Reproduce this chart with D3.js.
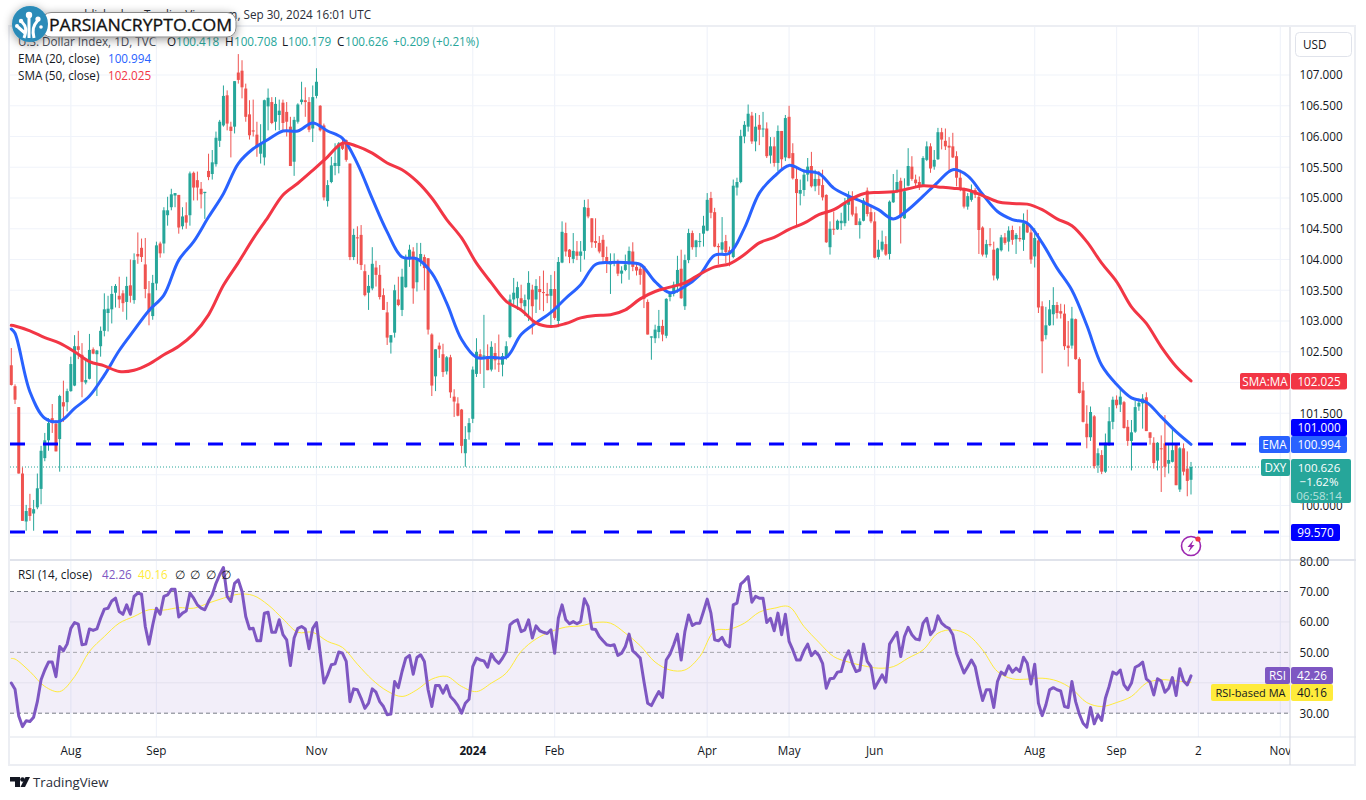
<!DOCTYPE html>
<html>
<head>
<meta charset="utf-8">
<title>DXY 1D</title>
<script src="https://cdnjs.cloudflare.com/ajax/libs/d3/7.8.5/d3.min.js"></script>
<style>
  html, body { margin: 0; padding: 0; background: #fff; }
  svg { display: block; }
  text { font-family: "Open Sans", Roboto, sans-serif; }
</style>
</head>
<body>
<div id="chart"></div>
<script>
// Daily candles, oldest first: open, high, low, close
const ohlcRows = [
  [102.28,102.56,101.95,101.96],[101.94,101.97,101.65,101.72],[101.6,101.6,100.52,100.52],[100.52,100.62,99.75,99.75],[99.74,100.01,99.59,99.91],[99.96,100.19,99.75,99.83],[99.87,100.09,99.59,99.94],[99.97,100.52,99.94,100.28],[100.27,100.97,100.02,100.89],[100.77,101.18,100.72,101.06],
  [101.06,101.42,100.89,101.34],[101.42,101.65,101.18,101.34],[101.33,101.39,100.88,100.88],[101.08,101.8,100.55,101.78],[101.68,102.03,101.36,101.61],[101.68,101.9,101.53,101.86],[101.86,102.42,101.85,102.3],[101.95,102.77,101.94,102.59],[102.59,102.84,102.38,102.53],[102.45,102.64,101.76,102.01],
  [102.0,102.37,101.97,102.04],[102.06,102.79,102.05,102.53],[102.54,102.57,102.46,102.47],[102.46,102.53,101.78,102.52],[102.59,102.91,102.42,102.84],[102.84,103.45,102.75,103.19],[103.13,103.41,102.83,103.2],[103.19,103.57,102.96,103.44],[103.46,103.6,103.22,103.57],[103.41,103.72,103.21,103.35],
  [103.45,103.5,103.15,103.29],[103.31,103.72,103.02,103.57],[103.58,104.0,103.3,103.41],[103.34,104.1,103.28,103.99],[104.09,104.44,103.93,104.05],[104.19,104.34,103.96,104.04],[103.92,104.35,103.37,103.52],[103.45,103.65,102.93,103.15],[103.08,103.75,103.02,103.62],[103.61,104.29,103.5,104.23],
  [104.26,104.29,104.03,104.1],[104.26,104.85,104.1,104.8],[104.72,105.02,104.55,104.8],[104.85,105.15,104.8,105.06],[105.04,105.08,104.85,105.08],[105.05,105.05,104.42,104.52],[104.54,104.85,104.49,104.7],[104.72,104.93,104.5,104.6],[104.72,105.43,104.55,105.4],[105.41,105.43,104.96,105.17],
  [105.29,105.43,104.96,105.17],[105.15,105.26,104.83,105.06],[105.08,105.1,104.66,105.1],[105.44,105.72,105.29,105.34],[105.39,105.78,105.3,105.58],[105.55,106.08,105.51,105.98],[105.93,106.27,105.83,106.24],[106.18,106.83,106.16,106.66],[106.67,106.75,106.1,106.21],[106.16,106.24,105.66,106.09],
  [106.16,106.9,106.05,106.9],[107.04,107.34,106.86,106.92],[107.07,107.24,106.62,106.8],[106.78,106.86,106.24,106.32],[106.36,106.59,105.95,106.02],[106.1,106.6,106.0,106.08],[106.03,106.24,105.67,105.82],[105.72,106.2,105.56,105.89],[105.66,106.6,105.53,106.59],[106.49,106.78,106.1,106.63],
  [106.56,106.64,106.2,106.22],[106.24,106.64,106.1,106.53],[106.35,106.6,106.1,106.42],[106.55,106.6,106.1,106.22],[106.4,106.56,106.0,106.24],[106.16,106.32,105.52,105.52],[105.59,106.32,105.36,106.27],[106.24,106.54,106.21,106.52],[106.56,106.89,106.52,106.6],[106.59,106.8,106.32,106.56],
  [106.56,106.64,106.07,106.11],[106.13,106.83,105.91,106.64],[106.66,107.11,106.62,106.89],[106.5,106.51,106.08,106.1],[106.18,106.21,104.96,105.01],[104.95,105.29,104.86,105.21],[105.26,105.67,105.24,105.53],[105.52,105.89,105.37,105.57],[105.52,105.91,105.4,105.89],[105.89,105.95,105.78,105.8],
  [105.94,105.95,105.59,105.62],[105.56,105.56,103.99,104.04],[104.04,104.5,103.99,104.4],[104.36,104.54,103.93,104.35],[104.4,104.56,103.83,103.91],[103.81,103.92,103.4,103.42],[103.46,103.75,103.18,103.57],[103.53,104.2,103.5,103.93],[103.87,103.98,103.56,103.75],[103.75,103.91,103.35,103.39],
  [103.42,103.53,103.18,103.18],[103.14,103.31,102.61,102.73],[102.65,102.77,102.47,102.77],[102.81,103.59,102.73,103.5],[103.35,103.72,103.24,103.26],
  [103.18,103.85,103.08,103.72],[103.55,104.08,103.54,104.04],[104.01,104.24,103.88,104.16],[104.13,104.2,103.28,103.53],[103.63,104.27,103.48,104.02],
  [103.97,104.27,103.89,104.09],[104.04,104.08,103.5,103.86],[104.02,104.02,102.78,102.86],[102.78,102.8,101.78,101.95],[102.1,102.54,101.86,102.54],[102.6,102.65,102.4,102.54],[102.46,102.63,102.09,102.17],[102.18,102.43,102.13,102.41],[102.41,102.45,101.75,101.84],[101.77,101.89,101.44,101.69],
  [101.66,101.76,101.45,101.46],[101.56,101.57,100.85,100.97],[100.85,101.29,100.63,101.08],[101.19,101.42,101.07,101.34],[101.41,102.26,101.34,102.21],[102.14,102.72,102.09,102.5],[102.46,102.54,102.14,102.4],[102.42,103.1,101.91,102.44],[102.43,102.62,102.2,102.2],[102.21,102.67,102.18,102.58],
  [102.48,102.64,102.21,102.36],[102.31,102.78,102.17,102.3],[102.29,102.48,102.1,102.43],[102.43,102.67,102.37,102.59],[102.74,103.43,102.72,103.35],[103.35,103.7,103.27,103.46],[103.37,103.64,103.18,103.55],[103.37,103.59,103.16,103.29],[103.24,103.43,103.08,103.34],[103.35,103.81,103.0,103.62],
  [103.51,103.59,102.78,103.24],[103.35,103.68,103.13,103.57],[103.52,103.73,103.18,103.47],[103.47,103.82,103.16,103.46],[103.44,103.62,103.29,103.41],[103.41,103.75,102.91,103.52],[103.52,103.81,103.02,103.05],[103.0,104.04,102.9,103.96],[103.95,104.62,103.94,104.45],[104.43,104.6,104.05,104.13],
  [104.16,104.17,103.94,104.04],[104.01,104.43,103.94,104.14],[104.13,104.3,103.99,104.06],[104.06,104.3,103.8,104.13],[104.14,104.97,104.0,104.85],[104.84,104.98,104.67,104.7],[104.67,104.67,104.19,104.28],[104.3,104.67,104.19,104.27],[104.27,104.38,104.1,104.13],[104.32,104.4,103.94,104.04],
  [104.04,104.21,103.78,103.95],[103.92,104.1,103.44,103.97],[103.96,104.1,103.89,103.97],[103.97,104.0,103.73,103.77],[103.77,103.89,103.61,103.82],[103.83,104.08,103.81,103.92],[103.92,104.21,103.67,104.14],[104.13,104.28,103.81,103.88],[103.88,103.94,103.74,103.82],[103.85,103.92,103.59,103.75],
  [103.89,103.9,103.21,103.36],[103.31,103.35,102.78,102.78],[102.73,102.75,102.37,102.75],[102.72,102.94,102.64,102.86],[102.82,103.18,102.72,102.92],[102.92,103.02,102.67,102.78],[102.76,103.37,102.72,103.36],[103.39,103.48,103.32,103.47],[103.44,103.64,103.4,103.59],[103.59,104.06,103.46,103.83],
  [103.85,104.16,103.36,103.37],[103.24,104.08,103.18,103.99],[103.99,104.5,103.94,104.43],[104.43,104.47,104.16,104.2],[104.2,104.32,104.04,104.31],[104.29,104.43,104.2,104.3],[104.42,104.71,104.21,104.55],[104.47,105.08,104.46,104.97],[105.0,105.1,104.67,104.76],[104.77,104.84,104.2,104.21],
  [104.22,104.26,103.92,104.2],[104.16,104.69,104.08,104.28],[104.3,104.4,103.94,104.12],[104.15,104.21,103.89,104.12],[104.04,105.3,104.02,105.2],[105.17,105.33,105.04,105.26],
  [105.26,106.11,105.24,106.01],[106.0,106.25,105.89,106.19],[106.16,106.52,106.08,106.37],[106.34,106.4,105.88,105.92],[105.92,106.38,105.76,106.16],[106.19,106.35,105.86,106.11],[106.12,106.4,105.99,106.13],[106.13,106.23,105.65,105.68],[105.69,105.99,105.56,105.84],[105.84,105.99,105.51,105.57],
  [105.57,106.18,105.44,106.09],[106.09,106.09,105.48,105.63],[105.66,106.35,105.6,106.3],[106.32,106.5,105.64,105.65],[105.73,105.89,105.3,105.32],[105.31,105.48,104.55,105.08],[105.07,105.3,104.88,105.13],[105.13,105.46,105.03,105.38],[105.38,105.65,105.27,105.51],[105.52,105.75,105.17,105.19],
  [105.19,105.46,105.11,105.31],[105.31,105.44,105.05,105.2],[105.21,105.46,104.96,105.01],[105.05,105.06,104.27,104.28],[104.2,104.62,104.08,104.5],[104.5,104.78,104.4,104.49],[104.49,104.65,104.48,104.63],[104.59,104.76,104.48,104.63],[104.59,105.0,104.54,104.92],[104.89,105.11,104.63,105.05],
  [105.03,105.11,104.7,104.73],[104.75,104.86,104.56,104.56],[104.56,104.67,104.34,104.62],[104.63,105.0,104.62,104.96],[105.12,105.17,104.7,104.74],[104.77,104.89,104.59,104.62],[104.62,104.77,104.02,104.03],[104.04,104.32,104.0,104.16],[104.16,104.47,104.13,104.29],[104.25,104.38,104.06,104.08],
  [104.09,104.96,104.0,104.94],[104.93,105.39,104.92,105.1],[105.11,105.46,105.08,105.26],[105.28,105.33,104.26,104.68],[104.67,105.32,104.66,105.11],[105.2,105.81,105.19,105.52],[105.51,105.68,105.28,105.31],[105.3,105.38,105.19,105.24],[105.26,105.35,105.13,105.2],[105.2,105.68,105.19,105.65],
  [105.62,105.92,105.6,105.84],[105.84,105.89,105.41,105.48],[105.51,105.78,105.46,105.62],[105.63,106.14,105.62,106.07],[106.07,106.14,105.79,105.95],[105.93,106.13,105.78,105.84],[105.85,105.99,105.41,105.82],[105.84,106.06,105.65,105.66],[105.68,105.76,105.19,105.33],[105.33,105.46,105.11,105.15],
  [105.15,105.17,104.83,104.86],[104.86,105.08,104.81,105.03],[104.97,105.22,104.94,105.13],[105.13,105.16,105.0,105.05],[105.02,105.05,104.09,104.48],[104.52,104.54,104.05,104.08],[104.08,104.32,104.03,104.25],[104.25,104.51,104.21,104.24],[104.16,104.29,103.66,103.74],[103.69,104.19,103.66,104.18],
  [104.15,104.4,104.13,104.36],[104.36,104.43,104.24,104.27],[104.29,104.54,104.13,104.47],[104.48,104.55,104.24,104.32],[104.33,104.43,104.09,104.4],[104.35,104.54,104.29,104.33],[104.32,104.75,104.14,104.59],[104.58,104.81,104.43,104.44],[104.44,104.51,103.93,104.0],[104.05,104.51,103.87,104.35],
  [104.31,104.43,103.13,103.22],[103.24,103.32,102.15,102.67],
  [102.77,103.23,102.7,102.93],[102.93,103.34,102.92,103.19],[103.11,103.55,102.93,103.26],[103.26,103.31,103.04,103.13],[103.16,103.28,103.04,103.12],[103.12,103.27,102.53,102.59],[102.6,103.0,102.26,102.56],[102.6,103.23,102.55,103.04],[103.03,103.04,102.37,102.38],[102.38,102.41,101.82,101.83],
  [101.87,102.01,101.35,101.36],[101.33,101.63,100.93,101.11],[101.11,101.61,101.05,101.52],[101.45,101.47,100.6,100.64],[100.65,100.93,100.53,100.85],[100.82,100.9,100.51,100.55],[100.55,101.17,100.53,101.02],[100.98,101.6,100.97,101.37],[101.36,101.77,101.24,101.72],[101.72,101.79,101.58,101.63],
  [101.64,101.92,101.52,101.77],[101.68,101.7,101.25,101.26],[101.28,101.39,100.97,101.05],[101.05,101.39,100.57,101.19],[101.2,101.7,101.18,101.6],[101.61,101.74,101.54,101.67],[101.66,101.81,101.25,101.74],[101.76,101.84,101.21,101.21],[101.19,101.19,100.99,101.1],[101.02,101.11,100.6,100.69],
  [100.73,101.03,100.57,101.02],[100.93,101.14,100.22,100.92],[101.01,101.47,100.46,100.63],[100.68,101.0,100.52,100.74],[100.71,101.25,100.7,100.9],[101.01,101.01,100.33,100.33],[100.26,100.95,100.22,100.93],[100.93,101.01,100.49,100.55],[100.6,100.88,100.15,100.4],[100.418,100.708,100.179,100.626]
];

// RSI 14, one value per candle, oldest first
const rsiValues = [
  39.9,37.9,29.1,25.6,27.5,27.3,28.7,33.8,41,44.2,46.8,46.8,42,51.9,50.5,52.7,57.9,59.8,59.3,52.5,
  52.7,57.7,57.2,57.7,61.2,64.2,64.5,66.9,67.8,63.4,62.5,65.6,62.5,68.4,69.5,69.1,58.5,52.7,59,64.5,
  62.5,68.4,68.9,70.7,70.7,61.6,62.9,63.6,69.5,67.8,65.6,64.5,64,66.7,68.9,72.7,75.5,77.9,68.4,66.7,
  72.7,73.8,70,61.8,57.7,57.9,53.8,53.8,62.9,63.2,56.6,56.6,60.7,55.8,54.1,45.7,54.7,57.9,58.5,57.7,
  51.2,57.9,59.8,49.7,39.9,42.6,45.9,46.2,50.1,49.7,47,33.8,38,37.7,34.9,31.6,33.3,38,36.9,33.8,
  32.2,29.5,29.7,40.4,38.4,43.7,48.1,49,42.8,48.3,49.2,47,37.7,32.2,39.1,39.1,36.6,39.1,35.5,34.2,
  32.5,30,33.3,34.6,45.3,48.1,47.5,47.2,45.1,49.5,47.5,46.4,48.1,50.3,59,60.1,60.7,56.8,57.4,60.7,
  54.7,58.7,57.1,56.6,56.2,57.4,49.7,61.2,65.6,60.7,59.4,60.1,59.4,60.1,67.6,65.1,57.7,57.5,55.2,53.8,
  52.5,52.2,52.5,49,49.7,51.9,56,50.5,49.4,48.1,40.4,33.3,32.5,34.9,37.1,35.2,47.5,49.4,52.5,56,
  47.5,56.8,62.3,58.8,59.6,59.6,63.4,67.5,62.9,54.1,53.8,54.9,52.5,51.8,65.6,66.2,72.4,73.5,74.9,66.5,
  68.4,67.8,67.8,59.8,61.2,57.1,62.9,55.8,62.5,53.6,50.8,47.5,47.5,50.5,52.7,48.9,50.3,49,46.4,38.2,
  41.3,41.5,43.5,43.7,48.1,50.5,46.4,43.7,44.2,52.7,47,45.3,38.2,40.4,42.6,40.2,52.7,54.7,56.6,48.6,
  55.2,58.2,55.8,54.4,54.1,59.6,61.2,55.8,57.4,62,59.6,58.5,57.9,55.8,49.7,46.4,43.2,45.3,47.5,45.3,
  39.3,34.2,37.7,37.7,31.9,40.4,43.5,42.6,45.6,43.5,44.8,43.7,48.4,46.4,39.6,46.1,33.3,29.2,32.7,37.7,
  38.4,37.7,37.3,32.2,31.9,40.4,33.8,29.7,26.7,25.4,31.9,26.5,29.5,27.6,34.9,38.8,43.5,42.8,44.2,39.3,
  37.7,39.9,45.1,45.7,46.8,41.3,40.2,36,41.3,40.6,36.9,38.2,41.7,35.8,44.6,40.6,39.3,42.26
];

// Read every 4th bar, newest first (see sampleBars)
const emaValues = [
  100.994,101.2,101.44,101.68,101.75,101.97,102.28,102.93,103.5,103.86,
  104.27,104.59,104.65,104.78,105.06,105.36,105.46,105.26,105.03,104.81,
  104.66,104.81,104.93,105.03,105.16,105.4,105.44,105.53,105.35,105.08,
  104.51,104.1,104.07,103.75,103.56,103.46,103.64,103.92,103.95,103.95,
  103.92,103.59,103.37,103.14,102.97,102.78,102.41,102.41,102.41,102.7,
  103.29,103.78,104.01,104.04,104.45,104.99,105.56,105.97,106.09,106.22,
  106.09,106.09,105.95,105.8,105.56,105.07,104.69,104.29,103.99,103.42,
  103.17,102.85,102.52,102.12,101.78,101.58,101.37,101.42,101.85,102.8,102.87
];
const smaValues = [
  102.025,102.26,102.58,102.96,103.23,103.64,103.94,104.29,104.55,104.66,
  104.81,104.9,104.91,104.94,105.04,105.13,105.16,105.18,105.2,105.15,
  105.1,105.09,105.07,104.96,104.81,104.73,104.59,104.49,104.36,104.27,
  104.08,103.93,103.88,103.76,103.62,103.55,103.48,103.36,103.18,103.1,
  103.09,103.05,102.96,102.91,102.97,103.18,103.32,103.62,103.94,104.35,
  104.65,105.0,105.27,105.46,105.57,105.73,105.84,105.89,105.67,105.45,
  105.24,105.05,104.69,104.34,103.95,103.58,103.1,102.79,102.59,102.45,
  102.3,102.2,102.18,102.27,102.34,102.5,102.64,102.73,102.84,102.92,102.93
];
const rsiMaValues = [
  40.16,40.6,41,39.9,35.5,33.5,32.2,33.5,38,40.6,
  41.5,41.2,41.3,43.7,50.8,55.8,57.4,56.3,50.8,48.1,
  45.3,44.8,45.6,46.8,48.6,53.3,58.5,65,64.5,63.2,
  59.6,57.6,57.1,48.6,44.2,44.2,46.8,52.2,56.3,59.6,
  59.8,58.7,58.3,56.8,54.4,50.3,43.2,39.9,37.1,38.8,
  42.1,41.2,37.7,35.5,37.3,41,46.1,51.6,53.6,56.6,
  56.6,61,65.6,68.7,69.1,67.8,66.2,64.5,64.7,63.9,
  64,61.8,59.6,55.2,50.3,42,37.1,38.8,43.7,47.8,48
];

const priceTicks = [100,101.5,102,102.5,103,103.5,104,104.5,105,105.5,106,106.5,107];
const priceGrid = [99.5,100,100.5,101,101.5,102,102.5,103,103.5,104,104.5,105,105.5,106,106.5,107];
const rsiTicks = [80,70,60,50,30];
const timeLabels = ["Aug","Sep","Nov","2024","Feb","Apr","May","Jun","Aug","Sep","2","Nov"];
const timeBars = [16,39,82,124,146,187,209,232,275,297,319,341];
const levelValues = [101.0,99.57];

const width = 1366, height = 800;
const paneLeft = 10, axisLeft = 1290, frameRight = 1352;
const paneTop = 27, paneBottom = 560, rsiBottom = 737, frameBottom = 765;
const lastBar = ohlcRows.length - 1;
const sampleBars = [...d3.range(lastBar, 0, -4), 0];

const green = "#26a69a", red = "#ef5350", textColor = "#131722";
const fontSize = 11.7;

const x = d3.scaleLinear().domain([0, lastBar]).range([11.3, 1191]);
const y = d3.scaleLinear().domain([100, 107]).range([505.5, 75]);
const yRsi = d3.scaleLinear().domain([30, 70]).range([713.2, 591.5]);

const svg = d3.select("#chart").append("svg")
  .attr("width", width)
  .attr("height", height);

const defs = svg.append("defs");
defs.append("filter").attr("id", "shadow")
  .attr("x", "-20%").attr("y", "-40%").attr("width", "140%").attr("height", "200%")
  .append("feDropShadow")
  .attr("dx", 0).attr("dy", 2).attr("stdDeviation", 5)
  .attr("flood-color", "#000").attr("flood-opacity", 0.4);

// Frame
svg.append("rect").attr("x", paneLeft - 1).attr("y", paneTop - 1)
  .attr("width", frameRight + 4 - paneLeft).attr("height", frameBottom - paneTop + 1)
  .attr("fill", "none").attr("stroke", "#eceef3").attr("stroke-width", 2);

// Grid
const grid = svg.append("g").attr("stroke", "#f0f3fa").attr("stroke-width", 1.2);
grid.selectAll(".gx").data(timeBars).enter().append("line")
  .attr("x1", d => x(d)).attr("x2", d => x(d))
  .attr("y1", paneTop).attr("y2", rsiBottom);
grid.selectAll(".gy").data(priceGrid).enter().append("line")
  .attr("x1", paneLeft).attr("x2", axisLeft)
  .attr("y1", d => y(d)).attr("y2", d => y(d));

// RSI band and levels
svg.append("rect").attr("x", paneLeft).attr("width", axisLeft - paneLeft)
  .attr("y", yRsi(70)).attr("height", yRsi(30) - yRsi(70))
  .attr("fill", "#7e57c2").attr("fill-opacity", 0.1);
svg.selectAll(".rsi-grid").data([60, 40]).enter().append("line")
  .attr("x1", paneLeft).attr("x2", axisLeft)
  .attr("y1", d => yRsi(d)).attr("y2", d => yRsi(d))
  .attr("stroke", "#e4e2ee").attr("stroke-width", 1);
svg.selectAll(".rsi-level").data([70, 50, 30]).enter().append("line")
  .attr("x1", paneLeft).attr("x2", axisLeft)
  .attr("y1", d => yRsi(d)).attr("y2", d => yRsi(d))
  .attr("stroke", d => d === 50 ? "#a5a5ac" : "#787b86")
  .attr("stroke-width", 1)
  .attr("stroke-dasharray", "4 3");

// Pane separators
svg.append("rect").attr("x", paneLeft).attr("y", 559).attr("width", frameRight + 4 - paneLeft).attr("height", 2).attr("fill", "#e0e3eb");
svg.append("line").attr("x1", paneLeft).attr("x2", frameRight + 4).attr("y1", rsiBottom).attr("y2", rsiBottom).attr("stroke", "#e0e3eb").attr("stroke-width", 1.2);
svg.append("line").attr("x1", axisLeft).attr("x2", axisLeft).attr("y1", paneTop).attr("y2", frameBottom).attr("stroke", "#d8dbe3").attr("stroke-width", 1.2);

// Last price dotted line
svg.append("line").attr("x1", paneLeft).attr("x2", 1261)
  .attr("y1", y(100.626)).attr("y2", y(100.626))
  .attr("stroke", green).attr("stroke-width", 1).attr("stroke-dasharray", "1 2");

// Candles
const candle = svg.append("g").selectAll("g").data(ohlcRows).enter().append("g")
  .attr("fill", d => d[3] >= d[0] ? green : red)
  .attr("stroke", d => d[3] >= d[0] ? green : red);
candle.append("line")
  .attr("x1", (d, i) => x(i)).attr("x2", (d, i) => x(i))
  .attr("y1", d => y(d[1])).attr("y2", d => y(d[2]))
  .attr("stroke-width", 1);
candle.append("rect")
  .attr("x", (d, i) => x(i) - 1.5)
  .attr("width", 3)
  .attr("y", d => y(Math.max(d[0], d[3])))
  .attr("height", d => Math.max(1, Math.abs(y(d[0]) - y(d[3]))))
  .attr("stroke", "none");

// Moving averages
function drawLine(values, xs, yScale, color, w, curve) {
  svg.append("path")
    .datum(values)
    .attr("fill", "none")
    .attr("stroke", color)
    .attr("stroke-width", w)
    .attr("stroke-linejoin", "round")
    .attr("stroke-linecap", "round")
    .attr("d", d3.line().x((d, i) => x(xs(i))).y(d => yScale(d)).curve(curve));
}
drawLine(emaValues, i => sampleBars[i], y, "#2962ff", 3, d3.curveCatmullRom);
drawLine(smaValues, i => sampleBars[i], y, "#f23645", 3, d3.curveCatmullRom);

// Horizontal levels
svg.selectAll(".level").data(levelValues).enter().append("line")
  .attr("x1", paneLeft).attr("x2", axisLeft)
  .attr("y1", d => y(d)).attr("y2", d => y(d))
  .attr("stroke", "#0000ff").attr("stroke-width", 3)
  .attr("stroke-dasharray", "15 18");

// RSI lines
drawLine(rsiMaValues, i => sampleBars[i], yRsi, "#ffeb3b", 1, d3.curveCatmullRom);
drawLine(rsiValues, i => i, yRsi, "#7e57c2", 3, d3.curveLinear);

// Price axis
svg.append("g").selectAll("text").data(priceTicks).enter().append("text")
  .attr("x", 1299.5).attr("y", d => y(d) + 4.3)
  .attr("font-size", fontSize).attr("fill", textColor)
  .text(d => d3.format(".3f")(d));
svg.append("g").selectAll("text").data(rsiTicks).enter().append("text")
  .attr("x", 1299.5).attr("y", d => yRsi(d) + 4.3 + (d === 80 ? 1 : 0))
  .attr("font-size", fontSize).attr("fill", textColor)
  .text(d => d3.format(".2f")(d));

// Time axis
svg.append("clipPath").attr("id", "time-clip").append("rect")
  .attr("x", paneLeft).attr("y", rsiBottom).attr("width", axisLeft - paneLeft).attr("height", frameBottom - rsiBottom);
svg.append("g").attr("clip-path", "url(#time-clip)")
  .selectAll("text").data(timeLabels).enter().append("text")
  .attr("x", (d, i) => x(timeBars[i]))
  .attr("y", 755)
  .attr("text-anchor", "middle")
  .attr("font-size", fontSize)
  .attr("font-weight", d => d === "2024" ? 700 : 400)
  .attr("fill", textColor)
  .text(d => d);

// Value tags on the price axis
function tag(x0, x1, y0, y1, color, label, textFill, size) {
  svg.append("rect").attr("x", x0).attr("y", y0).attr("width", x1 - x0).attr("height", y1 - y0)
    .attr("rx", 2).attr("fill", color);
  svg.append("text").attr("x", (x0 + x1) / 2).attr("y", (y0 + y1) / 2 + 4.3)
    .attr("text-anchor", "middle").attr("font-size", size || fontSize)
    .attr("fill", textFill || "#fff").text(label);
}
tag(1240, 1290, 373, 389.5, "#f23645", "SMA:MA");
tag(1291, 1347, 373, 389.5, "#f23645", "102.025");
tag(1291, 1347, 419, 436, "#0000ff", "101.000");
tag(1259, 1290, 436, 453, "#2962ff", "EMA");
tag(1291, 1347, 436, 453, "#2962ff", "100.994");
tag(1261, 1290, 459, 476, green, "DXY");
svg.append("rect").attr("x", 1291).attr("y", 459).attr("width", 60).attr("height", 44).attr("rx", 2).attr("fill", green);
[["100.626", 472, "#fff"], ["\u22121.62%", 486, "#fff"], ["06:58:14", 500, "#b7e2de"]].forEach(([t, ty, c]) => {
  svg.append("text").attr("x", 1319).attr("y", ty).attr("text-anchor", "middle")
    .attr("font-family", "Roboto").attr("font-size", 11.5).attr("fill", c).text(t);
});
tag(1291, 1340, 524, 541, "#0000ff", "99.570");
tag(1265, 1290, 667, 684, "#7e57c2", "RSI");
tag(1291, 1333, 667, 684, "#7e57c2", "42.26");
tag(1211, 1290, 684, 701, "#ffeb3b", "RSI-based MA", textColor, 11);
tag(1291, 1333, 684, 701, "#ffeb3b", "40.16", textColor);

// USD button
svg.append("rect").attr("x", 1295.5).attr("y", 32.5).attr("width", 56).attr("height", 24)
  .attr("rx", 4).attr("fill", "#fff").attr("stroke", "#e0e3eb");
svg.append("text").attr("x", 1303).attr("y", 49).attr("font-size", fontSize).attr("fill", textColor).text("USD");

// Alert icon
const icon = svg.append("g").attr("transform", "translate(1191,546)");
icon.append("circle").attr("r", 9.5).attr("fill", "#fff").attr("stroke", "#9c27b0").attr("stroke-width", 1.6);
icon.append("path").attr("d", "M2.5,-6 L-3.5,1 L-0.5,1 L-2.5,6 L3.5,-1 L0.5,-1 Z").attr("fill", "#9c27b0");
icon.append("circle").attr("cx", 7).attr("cy", -7).attr("r", 2.6).attr("fill", "#f23645");

// Legends
function legendRow(py, parts) {
  parts.forEach(([t, px, c]) => {
    svg.append("text").attr("x", px).attr("y", py).attr("font-size", fontSize).attr("fill", c).text(t);
  });
}
legendRow(46, [
  ["U.S. Dollar Index, 1D, TVC", 18, "#4a4e59"],
  ["O", 167, textColor], ["100.418", 176, green],
  ["H", 225, textColor], ["100.708", 234, green],
  ["L", 282, textColor], ["100.179", 288, green],
  ["C", 337, textColor], ["100.626", 345, green],
  ["+0.209 (+0.21%)", 393, green]
]);
legendRow(63, [["EMA (20, close)", 18, textColor], ["100.994", 108, "#2962ff"]]);
legendRow(80, [["SMA (50, close)", 18, textColor], ["102.025", 108, "#f23645"]]);
legendRow(579, [
  ["RSI (14, close)", 18, textColor], ["42.26", 102, "#7e57c2"], ["40.16", 138, "#ffeb3b"],
  ["\u2205", 175, textColor], ["\u2205", 190, textColor], ["\u2205", 206, textColor], ["\u2205", 221, textColor]
]);

// Title line, mostly hidden behind the watermark
svg.append("text").attr("x", 371).attr("y", 19).attr("text-anchor", "end")
  .attr("font-size", fontSize).attr("fill", "#2a2e39")
  .text("published on TradingView.com, Sep 30, 2024 16:01 UTC");

// Watermark
const mark = svg.append("g").attr("filter", "url(#shadow)");
mark.append("rect").attr("x", 42).attr("y", 12.5).attr("width", 194).attr("height", 24.5)
  .attr("rx", 9).attr("fill", "#fff").attr("stroke", "#8a8a8a");
mark.append("circle").attr("cx", 30).attr("cy", 24).attr("r", 18).attr("fill", "#2a8bb8");
const tree = svg.append("g").attr("fill", "#fff").attr("stroke", "#fff");
tree.append("path").attr("d", "M24,38 C27,30 26,26 22,22 M34,38 C32,30 33,26 38,20 M29,38 L29,17 M26,34 L18,27").attr("fill", "none").attr("stroke-width", 3);
[[29,15,3.2],[21,21,2.2],[38,19,2.6],[17,26,2],[41,27,1.8]].forEach(([cx, cy, r]) => {
  tree.append("circle").attr("cx", cx).attr("cy", cy).attr("r", r).attr("stroke", "none");
});
svg.append("text").attr("x", 49).attr("y", 31).attr("font-size", 16)
  .attr("font-family", "DejaVu Sans").attr("textLength", 183).attr("lengthAdjust", "spacingAndGlyphs")
  .attr("fill", "#111").attr("stroke", "#111").attr("stroke-width", 0.3).text("PARSIANCRYPTO.COM");

// TradingView footer
const logo = svg.append("g").attr("fill", "#131722");
logo.append("path").attr("d", "M10,777 H20 V787 H15 V781.5 H10 Z");
logo.append("circle").attr("cx", 22.5).attr("cy", 779.5).attr("r", 2.3);
logo.append("path").attr("d", "M25.5,777 H30 L25,787 H20.5 Z");
svg.append("text").attr("x", 33).attr("y", 787).attr("font-size", 13.2).attr("fill", "#2a2e39").text("TradingView");
</script>
</body>
</html>
